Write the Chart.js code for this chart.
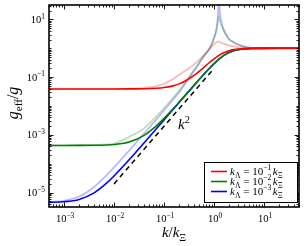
<!DOCTYPE html>
<html><head><meta charset="utf-8">
<script src="https://cdn.jsdelivr.net/npm/chart.js@4/dist/chart.umd.min.js"></script>
<style>html,body{margin:0;padding:0;background:#fff;}</style>
</head><body>
<canvas id="c" width="308" height="246"></canvas>
<script>
// k / k_Xi sample points
const kVals = [5e-4, 1e-3, 2e-3, 4e-3, 7e-3, 0.01, 0.02, 0.04, 0.07, 0.1, 0.15, 0.2, 0.3, 0.45, 0.6, 0.8, 0.9, 1.0, 1.1, 1.15, 1.2, 1.25, 1.3, 1.45, 1.7, 2.0, 2.5, 3.0, 4.0, 6.0, 10, 20, 50];

const redSolid = [0.039, 0.039, 0.039, 0.039, 0.039, 0.039, 0.0392, 0.0396, 0.0412, 0.0437, 0.0499, 0.0584, 0.083, 0.136, 0.205, 0.315, 0.373, 0.432, 0.488, 0.515, 0.541, 0.566, 0.591, 0.657, 0.745, 0.821, 0.897, 0.936, 0.972, 0.991, 0.998, 1.0, 1.0];
const greenSolid = [4.3e-4, 4.3e-4, 4.31e-4, 4.35e-4, 4.46e-4, 4.63e-4, 5.62e-4, 9.6e-4, 2.05e-3, 3.73e-3, 7.83e-3, 0.0136, 0.030, 0.0664, 0.116, 0.199, 0.2456, 0.2944, 0.3434, 0.369, 0.3934, 0.418, 0.442, 0.512, 0.615, 0.713, 0.825, 0.887, 0.95, 0.983, 0.995, 0.999, 1.0];
const blueSolid = [4.6e-6, 4.8e-6, 5.8e-6, 9.8e-6, 2.07e-5, 3.75e-5, 1.365e-4, 5.33e-4, 1.62e-3, 3.3e-3, 7.4e-3, 0.0132, 0.0296, 0.066, 0.1157, 0.1986, 0.2452, 0.294, 0.343, 0.3686, 0.393, 0.4179, 0.442, 0.512, 0.615, 0.713, 0.825, 0.887, 0.95, 0.983, 0.995, 0.999, 1.0];

const redLight = [0.039, 0.039, 0.039, 0.039, 0.039, 0.039, 0.0398, 0.042, 0.049, 0.059, 0.084, 0.12, 0.19, 0.33, 0.54, 0.9, 1.15, 1.4, 1.6, 1.68, 1.72, 1.68, 1.62, 1.5, 1.37, 1.27, 1.16, 1.1, 1.04, 1.01, 1.0, 1.0, 1.0];
const greenLight = [4.3e-4, 4.31e-4, 4.33e-4, 4.42e-4, 4.65e-4, 5.0e-4, 8.5e-4, 1.7e-3, 4.4e-3, 8.5e-3, 0.019, 0.034, 0.088, 0.235, 0.485, 0.96, 1.4, 2.3, 3.8, 6, 9, 13, 9, 5.5, 3.1, 2.05, 1.6, 1.35, 1.15, 1.04, 1.01, 1.0, 1.0];
const blueLight = [4.7e-6, 5.2e-6, 7.3e-6, 1.57e-5, 3.9e-5, 7.5e-5, 2.85e-4, 1.12e-3, 3.45e-3, 7.1e-3, 0.0162, 0.03, 0.082, 0.23, 0.48, 0.95, 1.4, 2.3, 4.0, 6.5, 14, 80, 20, 6.5, 3.2, 2.1, 1.6, 1.35, 1.15, 1.04, 1.01, 1.0, 1.0];

// k^2 guide line
const guideK = [0.01, 1];
const guideVals = [2e-5, 0.2];

// axis tick decades (labelled)
const xTickExps = ['−3', '−2', '−1', '0', '1'];
const xTickVals = [1e-3, 1e-2, 1e-1, 1, 10];
const yTickExps = ['−5', '−3', '−1', '1'];
const yTickVals = [1e-5, 1e-3, 1e-1, 10];

// legend exponents
const legendExps = ['−1', '−2', '−3'];
const legendColors = ['#ff0000', '#008000', '#0000ff'];

const SERIF = "'Liberation Serif','Times New Roman',serif";
function fontStr(p, base) {
  const size = p.s ? base * 0.7 : base;
  return (p.i ? 'italic ' : '') + size + 'px ' + SERIF;
}
function richWidth(ctx, parts, base) {
  let w = 0;
  for (const p of parts) { ctx.font = fontStr(p, base); w += ctx.measureText(p.t).width + (p.gap || 0); }
  return w;
}
function drawRich(ctx, parts, x, y, base, align) {
  const w = richWidth(ctx, parts, base);
  let cx = align === 'center' ? x - w / 2 : align === 'right' ? x - w : x;
  ctx.textAlign = 'left';
  ctx.textBaseline = 'alphabetic';
  for (const p of parts) {
    ctx.font = fontStr(p, base);
    const dy = p.s === 'sub' ? base * 0.28 : p.s === 'sup' ? -base * 0.42 : 0;
    ctx.fillText(p.t, cx, y + dy);
    cx += ctx.measureText(p.t).width + (p.gap || 0);
  }
}

function mk(arr) { return kVals.map((k, i) => ({ x: k, y: arr[i] })); }

const decor = {
  id: 'decor',
  afterDatasetsDraw(chart) {
    const ctx = chart.ctx;
    const a = chart.chartArea;
    const xs = chart.scales.x, ys = chart.scales.y;
    ctx.save();
    ctx.fillStyle = '#000';
    ctx.strokeStyle = '#000';
    // ticks
    ctx.lineWidth = 0.9;
    const majL = 4.5, minL = 2.5;
    ctx.beginPath();
    for (let d = -4; d <= 1; d++) {
      for (let m = 1; m <= 9; m++) {
        const v = m * Math.pow(10, d);
        if (v < xs.min * 0.999 || v > xs.max * 1.001) continue;
        const px = Math.round(xs.getPixelForValue(v)) + 0.5;
        const L = m === 1 ? majL : minL;
        ctx.moveTo(px, a.bottom); ctx.lineTo(px, a.bottom - L);
        ctx.moveTo(px, a.top); ctx.lineTo(px, a.top + L);
      }
    }
    for (let d = -6; d <= 1; d++) {
      for (let m = 1; m <= 9; m++) {
        const v = m * Math.pow(10, d);
        if (v < ys.min * 0.999 || v > ys.max * 1.001) continue;
        const py = Math.round(ys.getPixelForValue(v)) + 0.5;
        const L = (m === 1 && yTickVals.some(t => Math.abs(t - v) / t < 1e-6)) ? majL : minL;
        ctx.moveTo(a.left, py); ctx.lineTo(a.left + L, py);
        ctx.moveTo(a.right, py); ctx.lineTo(a.right - L, py);
      }
    }
    ctx.stroke();
    // frame
    ctx.lineWidth = 1.6;
    ctx.strokeRect(a.left, a.top, a.right - a.left, a.bottom - a.top);

    // tick labels
    xTickVals.forEach((v, i) => {
      const px = xs.getPixelForValue(v);
      drawRich(ctx, [{ t: '10' }, { t: xTickExps[i], s: 'sup' }], px + 1, a.bottom + 15, 10.5, 'center');
    });
    yTickVals.forEach((v, i) => {
      const py = ys.getPixelForValue(v);
      drawRich(ctx, [{ t: '10' }, { t: yTickExps[i], s: 'sup' }], a.left - 4, py + 3.5, 10.5, 'right');
    });

    // axis titles
    drawRich(ctx, [{ t: 'k', i: true }, { t: '/' }, { t: 'k', i: true }, { t: 'Ξ', s: 'sub' }], (a.left + a.right) / 2, 237, 15, 'center');
    ctx.save();
    ctx.translate(18, 103);
    ctx.rotate(-Math.PI / 2);
    drawRich(ctx, [{ t: 'g', i: true }, { t: 'eff', s: 'sub' }, { t: '/' }, { t: 'g', i: true }], 0, 0, 16, 'center');
    ctx.restore();

    // k^2 annotation
    drawRich(ctx, [{ t: 'k', i: true }, { t: '2', s: 'sup' }], 178, 129, 15, 'left');

    // legend
    const bx = 204, by = 162, bw = 93, bh = 40;
    ctx.fillStyle = '#fff';
    ctx.fillRect(bx, by, bw, bh);
    ctx.lineWidth = 1;
    ctx.strokeStyle = '#000';
    ctx.strokeRect(bx + 0.5, by + 0.5, bw, bh);
    legendExps.forEach((e, i) => {
      const ly = 171.5 + i * 10;
      ctx.strokeStyle = legendColors[i];
      ctx.lineWidth = 1.6;
      ctx.beginPath(); ctx.moveTo(211, ly); ctx.lineTo(227, ly); ctx.stroke();
      ctx.fillStyle = '#000';
      drawRich(ctx, [{ t: 'k', i: true }, { t: 'Λ', s: 'sub' }, { t: ' = 10' }, { t: e, s: 'sup', gap: 1.5 }, { t: 'k', i: true }, { t: 'Ξ', s: 'sub' }], 230, ly + 3.5, 11, 'left');
    });
    ctx.restore();
  }
};

new Chart(document.getElementById('c'), {
  type: 'line',
  data: {
    datasets: [
      { data: mk(redSolid), borderColor: '#ff0000', borderWidth: 1.6, order: 0 },
      { data: mk(greenSolid), borderColor: '#008000', borderWidth: 1.6, order: 0 },
      { data: mk(blueSolid), borderColor: '#0000ff', borderWidth: 1.6, order: 0 },
      { data: mk(redLight), borderColor: 'rgba(255,0,0,0.28)', borderWidth: 1.8, order: 1 },
      { data: mk(greenLight), borderColor: 'rgba(0,128,0,0.25)', borderWidth: 1.8, order: 1 },
      { data: mk(blueLight), borderColor: 'rgba(0,0,255,0.28)', borderWidth: 1.8, order: 1 },
      { data: guideK.map((k, i) => ({ x: k, y: guideVals[i] })), borderColor: '#000', borderWidth: 1.5, borderDash: [5, 4], tension: 0, cubicInterpolationMode: 'default', order: 0 }
    ]
  },
  options: {
    responsive: false,
    animation: false,
    devicePixelRatio: 1,
    layout: { padding: { left: 49, right: 9, top: 5, bottom: 39 } },
    elements: { point: { radius: 0 }, line: { cubicInterpolationMode: 'monotone', fill: false } },
    plugins: { legend: { display: false }, tooltip: { enabled: false } },
    scales: {
      x: { type: 'logarithmic', min: 5e-4, max: 50, display: false },
      y: { type: 'logarithmic', min: Math.pow(10, -5.5), max: Math.pow(10, 1.5), display: false }
    }
  },
  plugins: [decor]
});
</script>
</body></html>
